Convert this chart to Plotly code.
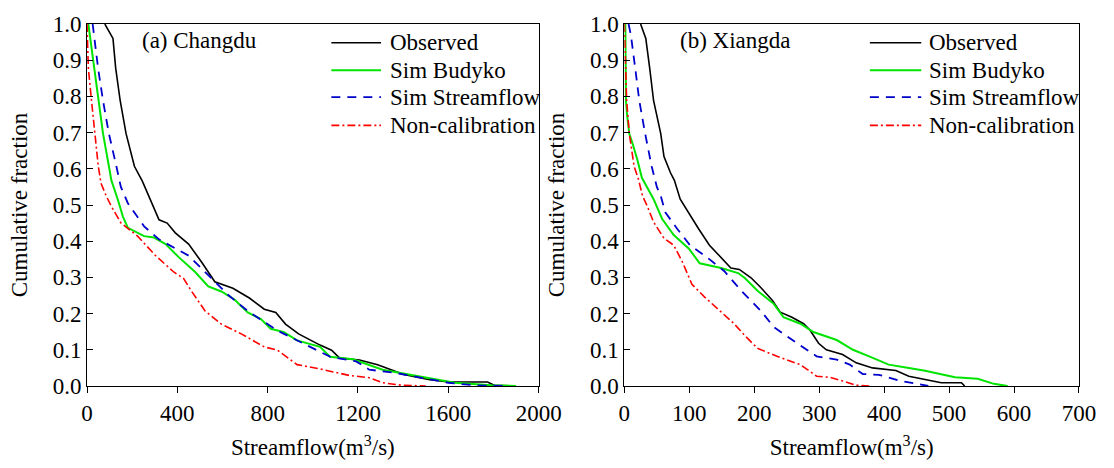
import plotly.graph_objects as go

# ---------------- data: (a) Changdu ----------------
cd_obs_x = [79, 115, 127, 147, 173, 210, 245, 282, 319, 355, 391, 450, 508, 566, 646, 719, 785, 836, 879, 937,
            1032, 1083, 1119, 1207, 1287, 1403, 1512, 1600, 1774, 1803, 1900]
cd_obs_y = [1.0, 0.96, 0.878, 0.788, 0.697, 0.607, 0.566, 0.514, 0.459, 0.45, 0.423, 0.392, 0.342, 0.288, 0.27, 0.243,
            0.212, 0.203, 0.171, 0.144, 0.113, 0.099, 0.077, 0.072, 0.059, 0.032, 0.018, 0.011, 0.011, 0.002, 0.0]

cd_bud_x = [6, 31, 49, 71, 97, 108, 137, 159, 181, 253, 297, 348, 406, 479, 537, 595, 653, 712, 770, 814, 872, 930,
            1032, 1076, 1178, 1228, 1309, 1425, 1541, 1629, 1789, 1900]
cd_bud_y = [1.0, 0.878, 0.788, 0.697, 0.607, 0.568, 0.514, 0.468, 0.437, 0.414, 0.41, 0.392, 0.356, 0.315, 0.275,
            0.261, 0.239, 0.203, 0.185, 0.158, 0.149, 0.126, 0.108, 0.081, 0.074, 0.063, 0.045, 0.032, 0.018, 0.009,
            0.002, 0.0]

cd_sim_x = [25, 49, 71, 97, 130, 150, 181, 253, 319, 370, 450, 552, 624, 712, 843, 959, 1076, 1192, 1250, 1367, 1483,
            1600, 1716, 1850]
cd_sim_y = [1.0, 0.878, 0.788, 0.697, 0.607, 0.55, 0.505, 0.441, 0.405, 0.387, 0.36, 0.297, 0.252, 0.207, 0.153,
            0.117, 0.081, 0.068, 0.045, 0.036, 0.023, 0.009, 0.002, 0.0]

cd_non_x = [0, 6, 20, 35, 50, 62, 85, 108, 151, 224, 304, 384, 428, 464, 523, 595, 683, 785, 843, 930, 1032, 1163,
            1250, 1309, 1396, 1500]
cd_non_y = [1.0, 0.878, 0.788, 0.697, 0.607, 0.56, 0.525, 0.496, 0.45, 0.414, 0.36, 0.315, 0.297, 0.261, 0.207,
            0.171, 0.144, 0.108, 0.099, 0.059, 0.047, 0.029, 0.023, 0.009, 0.002, 0.0]

# ---------------- data: (b) Xiangda ----------------
xd_obs_x = [25, 33, 39, 45, 56, 61, 71, 77, 86, 104, 114, 131, 149, 164, 177, 195, 210, 228, 240, 258, 276, 286, 299,
            311, 336, 357, 382, 418, 438, 468, 488, 519, 524]
xd_obs_y = [1.0, 0.96, 0.878, 0.788, 0.697, 0.634, 0.589, 0.568, 0.516, 0.462, 0.435, 0.389, 0.353, 0.326, 0.322,
            0.299, 0.272, 0.236, 0.204, 0.19, 0.172, 0.154, 0.118, 0.1, 0.087, 0.064, 0.05, 0.043, 0.027, 0.016,
            0.009, 0.009, 0.0]

xd_bud_x = [1.5, 2.5, 4, 7.6, 12.6, 20, 27, 40, 45, 58, 76, 99, 116, 149, 175, 185, 205, 230, 245, 271, 291, 327, 352,
            377, 407, 438, 463, 509, 544, 569, 590]
xd_bud_y = [1.0, 0.788, 0.752, 0.697, 0.67, 0.625, 0.575, 0.534, 0.516, 0.462, 0.417, 0.38, 0.339, 0.326, 0.312,
            0.299, 0.263, 0.227, 0.19, 0.172, 0.149, 0.127, 0.1, 0.082, 0.059, 0.05, 0.042, 0.024, 0.02, 0.006, 0.0]

xd_sim_x = [6.5, 10, 16.7, 23, 32, 42, 50, 56, 63, 81, 101, 129, 154, 180, 210, 230, 266, 296, 327, 347, 367, 392,
            423, 453, 468]
xd_sim_y = [1.0, 0.97, 0.878, 0.788, 0.697, 0.607, 0.55, 0.525, 0.48, 0.435, 0.389, 0.353, 0.317, 0.263, 0.208,
            0.163, 0.118, 0.082, 0.073, 0.059, 0.033, 0.031, 0.015, 0.004, 0.0]

xd_non_x = [0, 3.5, 7.6, 15, 21.7, 28, 35, 45, 61, 76, 89, 104, 124, 147, 169, 185, 205, 235, 271, 296, 316, 336,
            357, 377]
xd_non_y = [1.0, 0.788, 0.697, 0.607, 0.571, 0.525, 0.498, 0.453, 0.408, 0.389, 0.344, 0.281, 0.245, 0.208, 0.172,
            0.14, 0.104, 0.082, 0.059, 0.027, 0.024, 0.014, 0.002, 0.0]

series_names = ["Observed", "Sim Budyko", "Sim Streamflow", "Non-calibration"]
panel_titles = ["(a) Changdu", "(b) Xiangda"]
left_xticks = [0, 400, 800, 1200, 1600, 2000]
right_xticks = [0, 100, 200, 300, 400, 500, 600, 700]
y_ticks = [0.0, 0.1, 0.2, 0.3, 0.4, 0.5, 0.6, 0.7, 0.8, 0.9, 1.0]

styles = [
    dict(color="#000000", width=1.6, dash="solid"),
    dict(color="#00E400", width=2.0, dash="solid"),
    dict(color="#0000CC", width=1.8, dash="9px,7px"),
    dict(color="#FF0000", width=1.6, dash="8px,3px,2px,3px"),
]

FONT = "Liberation Serif, Times New Roman, serif"
FS = 23

fig = go.Figure()
left = [(cd_obs_x, cd_obs_y), (cd_bud_x, cd_bud_y), (cd_sim_x, cd_sim_y), (cd_non_x, cd_non_y)]
right = [(xd_obs_x, xd_obs_y), (xd_bud_x, xd_bud_y), (xd_sim_x, xd_sim_y), (xd_non_x, xd_non_y)]
for i, (xs, ys) in enumerate(left):
    fig.add_trace(go.Scatter(x=xs, y=ys, mode="lines", name=series_names[i], line=styles[i],
                             xaxis="x", yaxis="y", showlegend=False))
for i, (xs, ys) in enumerate(right):
    fig.add_trace(go.Scatter(x=xs, y=ys, mode="lines", name=series_names[i], line=styles[i],
                             xaxis="x2", yaxis="y2", showlegend=False))

axis_common = dict(showline=True, linecolor="black", linewidth=1, mirror=True, showgrid=False, zeroline=False,
                   tickfont=dict(family=FONT, size=FS, color="black"), ticklen=6, tickcolor="black")

fig.update_layout(
    width=1114, height=468,
    margin=dict(l=87, r=21, t=22, b=78),
    paper_bgcolor="white", plot_bgcolor="white",
    font=dict(family=FONT, size=FS, color="black"),
    xaxis=dict(domain=[0, 0.4553], range=[0, 2000], tickvals=left_xticks, ticks="outside",
               title=dict(text="Streamflow(m<sup>3</sup>/s)", font=dict(family=FONT, size=FS), standoff=14),
               anchor="y", **axis_common),
    yaxis=dict(domain=[0, 1], range=[0, 1], tickvals=y_ticks, tickformat=".1f", ticks="inside",
               title=dict(text="Cumulative fraction", font=dict(family=FONT, size=FS), standoff=18),
               anchor="x", **axis_common),
    xaxis2=dict(domain=[0.5417, 1], range=[0, 700], tickvals=right_xticks, ticks="outside",
                title=dict(text="Streamflow(m<sup>3</sup>/s)", font=dict(family=FONT, size=FS), standoff=14),
                anchor="y2", **axis_common),
    yaxis2=dict(domain=[0, 1], range=[0, 1], tickvals=y_ticks, tickformat=".1f", ticks="inside",
                title=dict(text="Cumulative fraction", font=dict(family=FONT, size=FS), standoff=18),
                anchor="x2", **axis_common),
    showlegend=False,
)

fig.add_annotation(text=panel_titles[0], xref="x domain", yref="y domain", x=0.118, y=0.955,
                   xanchor="left", yanchor="middle", showarrow=False, font=dict(family=FONT, size=FS))
fig.add_annotation(text=panel_titles[1], xref="x2 domain", yref="y2 domain", x=0.117, y=0.955,
                   xanchor="left", yanchor="middle", showarrow=False, font=dict(family=FONT, size=FS))

# legends (one per panel), drawn in each panel's domain coordinates
legend_rows = [0.948, 0.872, 0.798, 0.72]
legend_boxes = [("x domain", "y domain", 0.541, 0.651, 0.666),
                ("x2 domain", "y2 domain", 0.540, 0.653, 0.666)]
for xref, yref, x0, x1, xt in legend_boxes:
    for i, name in enumerate(series_names):
        st = styles[i]
        fig.add_shape(type="line", xref=xref, yref=yref, x0=x0, x1=x1, y0=legend_rows[i], y1=legend_rows[i],
                      line=dict(color=st["color"], width=st["width"], dash=st["dash"]))
        fig.add_annotation(text=name, xref=xref, yref=yref, x=xt, y=legend_rows[i], xanchor="left",
                           yanchor="middle", showarrow=False, font=dict(family=FONT, size=FS))

fig.write_html("out.html", config={"displayModeBar": False},
               post_script="document.body.style.margin='0';document.body.style.overflow='hidden';")
